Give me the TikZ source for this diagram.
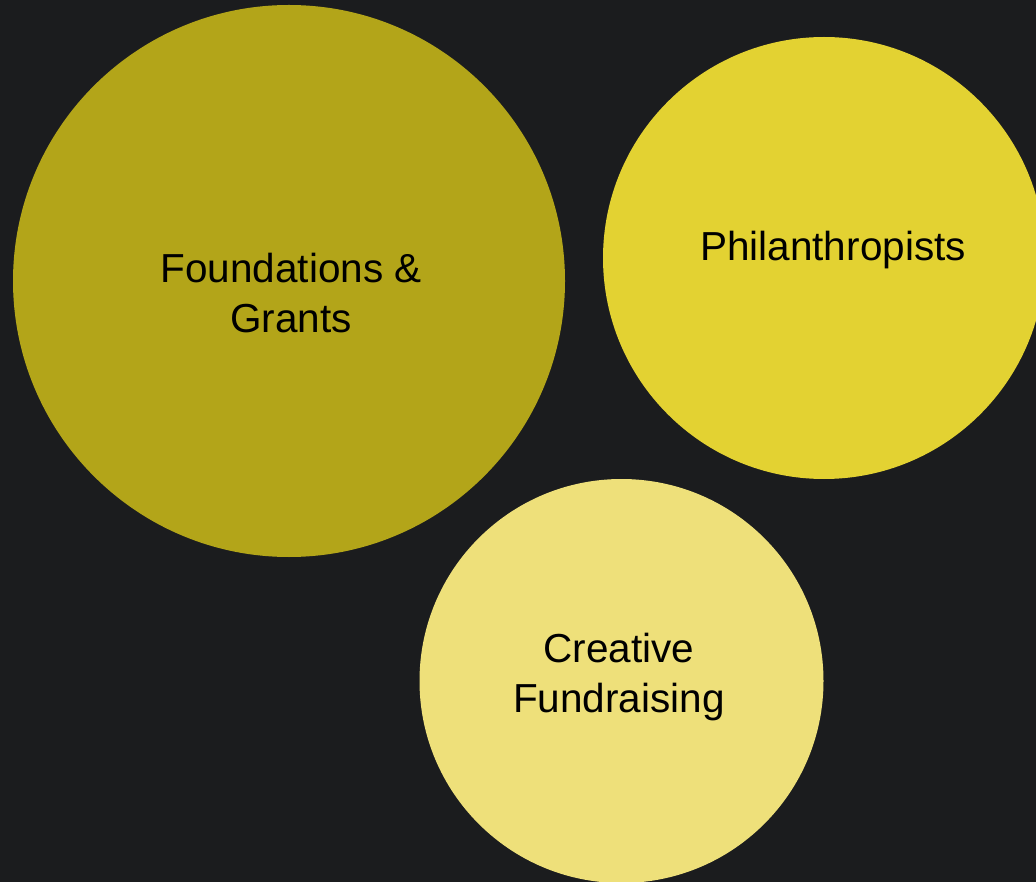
\documentclass[tikz,border=0pt]{standalone}
\usepackage{fontspec}
\setmainfont{Liberation Sans}
\definecolor{bg}{HTML}{1B1C1E}
\definecolor{cone}{HTML}{B3A519}
\definecolor{ctwo}{HTML}{E3D232}
\definecolor{cthree}{HTML}{EEE07A}
\tikzset{
  bubble/.style={circle, draw=none, inner sep=0pt},
  lbl/.style={text=black, align=center, font=\fontsize{40.5}{50}\selectfont}
}
\begin{document}
\begin{tikzpicture}[x=1pt,y=-1pt]
\fill[bg] (0,0) rectangle (1036,882);
\clip (0,0) rectangle (1036,882);
\useasboundingbox (0,0) rectangle (1036,882);
\node[bubble, fill=cone, minimum size=552pt] (found) at (289,281) {};
\node[bubble, fill=ctwo, minimum size=442pt] (phil) at (824,258) {};
\node[bubble, fill=cthree, minimum size=404pt] (crea) at (621.5,681) {};
\node[lbl] (foundt) at (291,293) {Foundations \&\\Grants};
\node[lbl] (philt) at (833,250) {Philanthropists};
\node[lbl] (creat) at (619,677) {Creative\\Fundraising};
\end{tikzpicture}
\end{document}
